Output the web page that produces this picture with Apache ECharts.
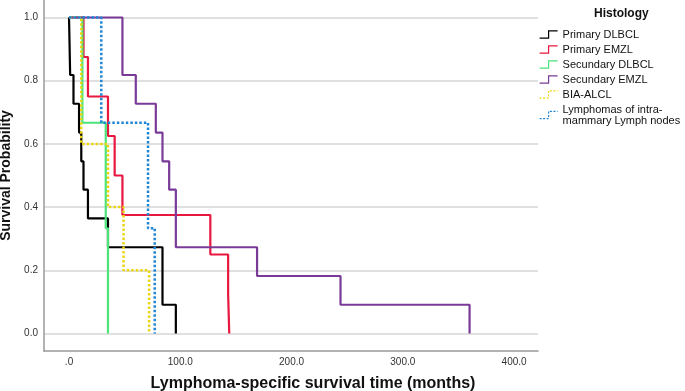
<!DOCTYPE html>
<html>
<head>
<meta charset="utf-8">
<script src="https://cdn.jsdelivr.net/npm/echarts@6/dist/echarts.min.js"></script>
<style>
  html, body { margin: 0; padding: 0; background: #fff; }
  #main { width: 685px; height: 391px; }
</style>
</head>
<body>
<div id="main"></div>
<script>
// survival steps: [months, survival probability]
var primaryDLBCL = [[0, 1], [1, 0.818], [4, 0.727], [9, 0.636], [11, 0.545], [13, 0.455], [17, 0.364], [35, 0.273], [84, 0.091], [96, 0]];
var primaryEMZL = [[0, 1], [13, 0.875], [17, 0.75], [35, 0.625], [41, 0.5], [48, 0.375], [127, 0.25], [143, 0.125], [144, 0]];
var secundaryDLBCL = [[0, 1], [12, 0.667], [33, 0.333], [35, 0]];
var secundaryEMZL = [[0, 1], [48, 0.818], [60, 0.727], [78, 0.636], [84, 0.545], [90, 0.455], [96, 0.273], [169, 0.182], [244, 0.091], [360, 0]];
var biaALCL = [[0, 1], [11, 0.6], [35, 0.4], [49, 0.2], [72, 0]];
var intraMammary = [[0, 1], [29, 0.667], [71, 0.333], [77, 0]];

var groupNames = ["Primary DLBCL", "Primary EMZL", "Secundary DLBCL", "Secundary EMZL", "BIA-ALCL", "Lymphomas of intra-\nmammary Lymph nodes"];
var xTicks = [0, 100, 200, 300, 400];
var yTicks = [0, 0.2, 0.4, 0.6, 0.8, 1.0];

var colors = ["#000000", "#e8173f", "#4be37a", "#7a3b98", "#ead712", "#1f86d6"];
var dotted = [false, false, false, false, true, true];
var allData = [primaryDLBCL, primaryEMZL, secundaryDLBCL, secundaryEMZL, biaALCL, intraMammary];

var chart = echarts.init(document.getElementById("main"));

var series = allData.map(function (d, i) {
  return {
    name: groupNames[i],
    type: "line",
    step: "end",
    data: d,
    symbol: "none",
    z: 3 + i,
    lineStyle: { color: colors[i], width: dotted[i] ? 2.5 : 2.2, type: dotted[i] ? [2.5, 2] : "solid" },
    itemStyle: { color: colors[i] }
  };
});

var option = {
  animation: false,
  textStyle: { fontFamily: "Liberation Sans, Arial, sans-serif" },
  grid: { left: 44, right: 147, top: 0, bottom: 40, containLabel: false, outerBoundsMode: "none" },
  title: {
    text: "Histology",
    left: 594, top: 8, padding: 0,
    textStyle: { fontSize: 12, fontWeight: "bold", color: "#111", fontFamily: "Liberation Sans, Arial, sans-serif" }
  },
  legend: {
    orient: "vertical",
    left: 539, top: 29, padding: 0,
    itemWidth: 18, itemHeight: 8, itemGap: 4,
    icon: "path://M0,8 L10,8 L10,0 L20,0",
    itemStyle: { color: "transparent", borderWidth: 1.2 },
    textStyle: { fontSize: 11, color: "#111", lineHeight: 11 },
    data: groupNames.map(function (n, i) {
      return { name: n, itemStyle: { borderColor: colors[i], borderType: dotted[i] ? [2, 1.5] : "solid" } };
    })
  },
  xAxis: {
    type: "value",
    min: -22.5, max: 421.5,
    name: "Lymphoma-specific survival time (months)",
    nameLocation: "middle",
    nameGap: 25,
    nameTextStyle: { fontSize: 16, fontWeight: "bold", color: "#111", padding: [0, 0, 0, 44] },
    axisLine: { show: true, onZero: false, lineStyle: { color: "#999", width: 1.5 } },
    axisTick: { show: false, customValues: xTicks },
    splitLine: { show: false },
    axisLabel: {
      customValues: xTicks,
      fontSize: 10, color: "#333", margin: 6,
      formatter: function (v) { return v === 0 ? ".0" : v.toFixed(1); }
    }
  },
  yAxis: {
    type: "value",
    min: -0.0554, max: 1.0554,
    name: "Survival Probability",
    nameLocation: "middle",
    nameGap: 28,
    nameTextStyle: { fontSize: 14, fontWeight: "bold", color: "#111" },
    axisLine: { show: true, onZero: false, lineStyle: { color: "#999", width: 1.5 } },
    axisTick: { show: false, customValues: yTicks },
    splitLine: { show: true, lineStyle: { color: "#d6d6d6", width: 1.5 } },
    axisLabel: {
      customValues: yTicks,
      fontSize: 10, color: "#333", margin: 6,
      formatter: function (v) { return v.toFixed(1); }
    }
  },
  series: series
};

chart.setOption(option);
</script>
</body>
</html>
